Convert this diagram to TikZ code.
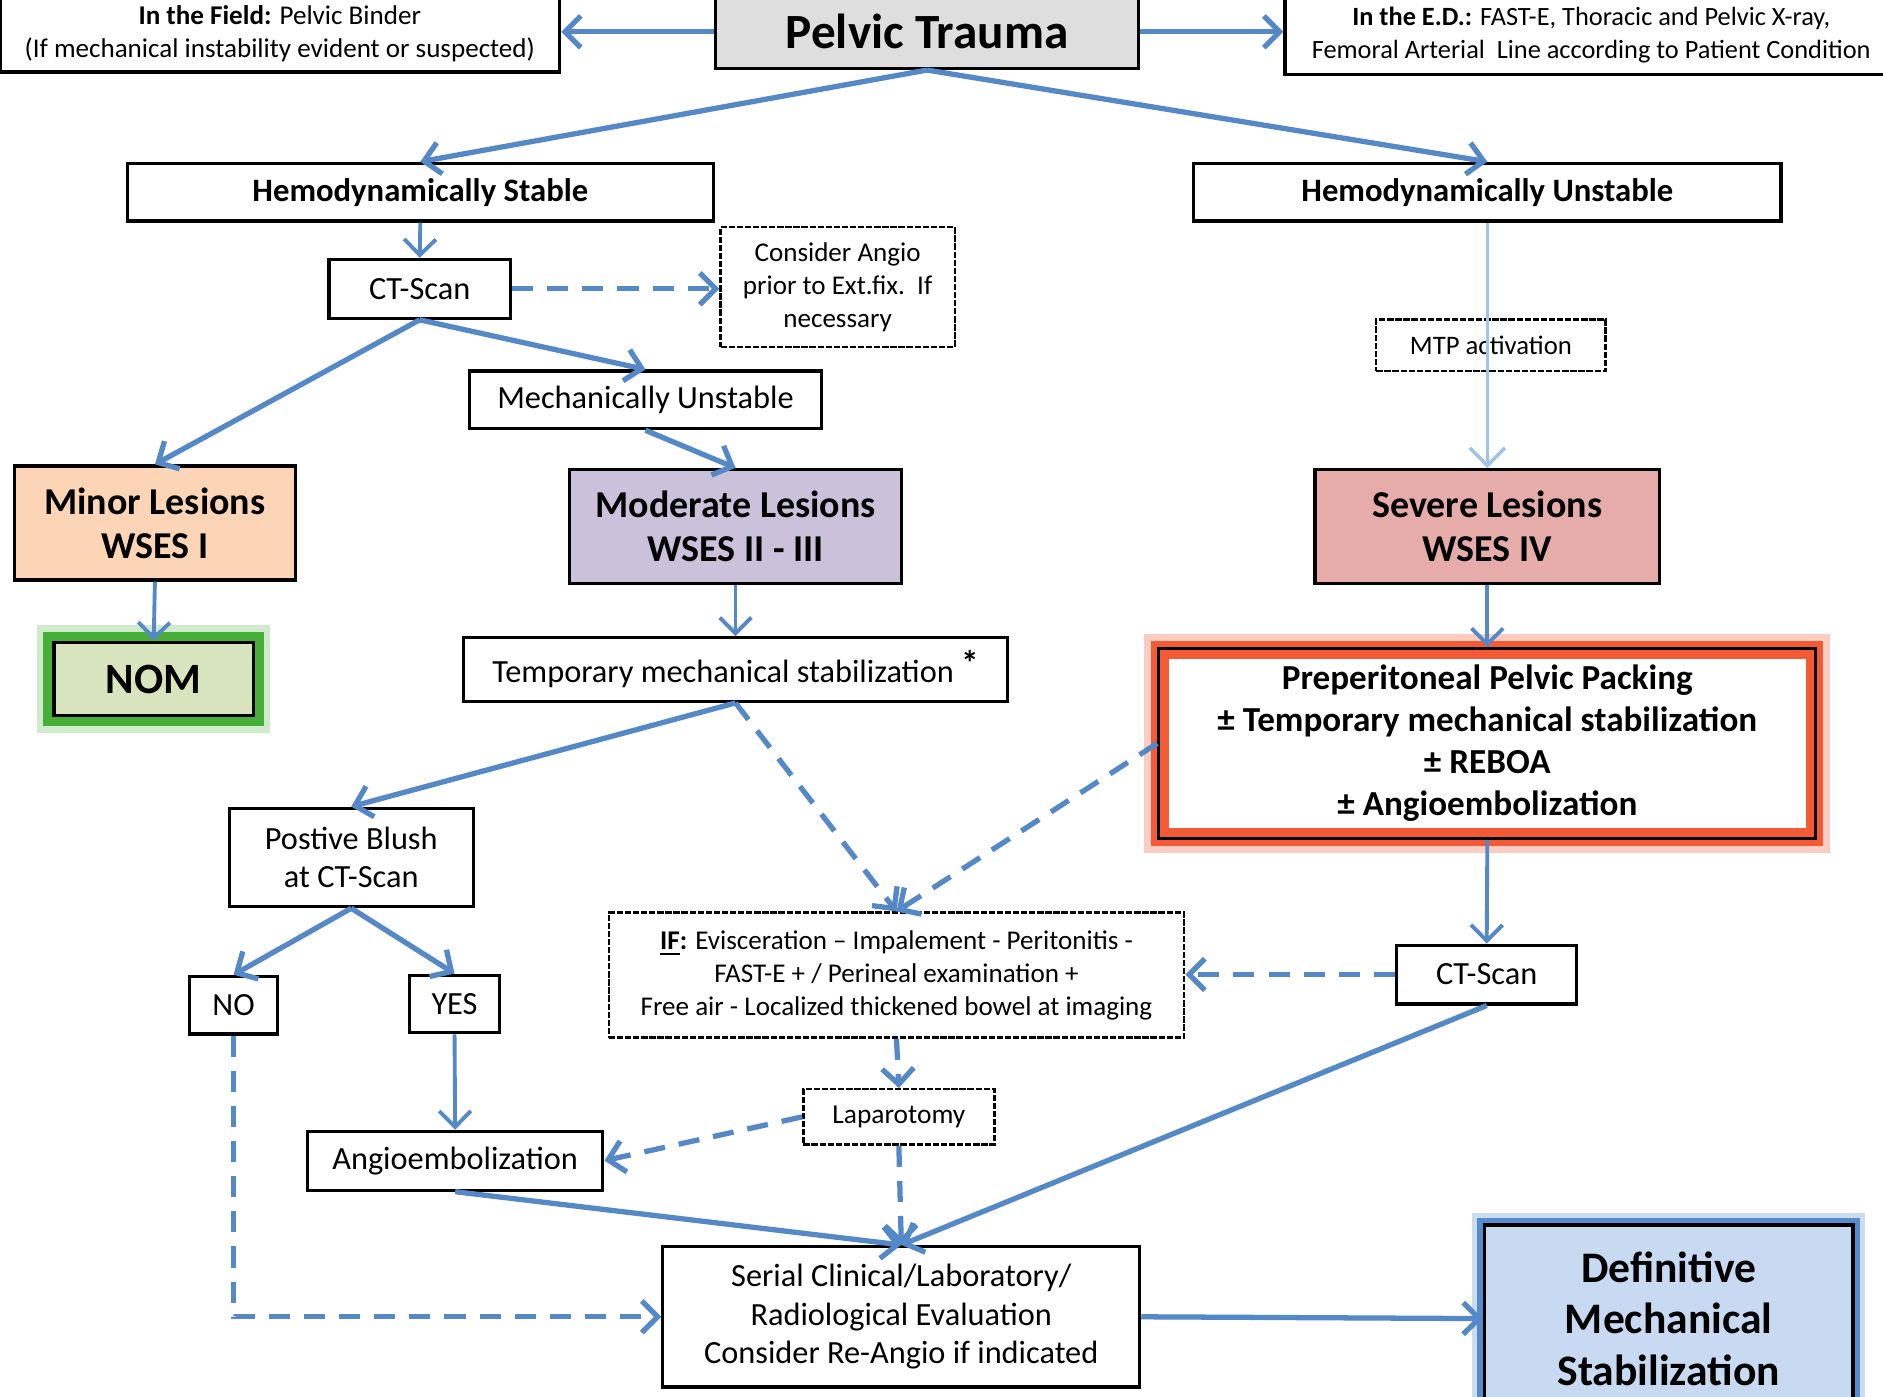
\documentclass[tikz,border=0pt]{standalone}
\usepackage{fontspec}
\setmainfont{Carlito}
\usetikzlibrary{arrows.meta}
\pgfdeclarelayer{bg}
\pgfsetlayers{bg,main}
\newcommand\U{0.012009cm}
\definecolor{flow}{RGB}{84,136,198}
\definecolor{flowlight}{RGB}{160,196,230}
\definecolor{trauma}{RGB}{222,222,222}
\definecolor{minorfill}{RGB}{251,213,181}
\definecolor{modfill}{RGB}{204,193,218}
\definecolor{sevfill}{RGB}{229,172,170}
\definecolor{nomfill}{RGB}{215,228,189}
\definecolor{nomglow}{RGB}{70,175,55}
\definecolor{packglow}{RGB}{245,90,55}
\definecolor{deffill}{RGB}{200,218,242}
\definecolor{defglow}{RGB}{85,140,205}
\tikzset{
  box/.style={draw=black, line width=0.9pt, fill=white, inner sep=0pt, align=center, text=black},
  sz/.style 2 args={minimum width=#1*\U, minimum height=#2*\U},
  dotbox/.style={box, line width=0.7pt, dash pattern=on 1.8pt off 0.5pt},
  link/.style={draw=flow, line width=1.5pt, -{Straight Barb[length=4.5pt,width=9pt]}},
  slink/.style={link, line width=1.1pt},
  dlink/.style={link, dash pattern=on 6pt off 4pt},
  tlink/.style={draw=flowlight, line width=1pt, -{Straight Barb[length=5pt,width=10pt]}},
  fs/.style={font=\fontsize{9.2}{11}\selectfont},
  hemo/.style={font=\bfseries\fontsize{9.3}{11}\selectfont},
  lesion/.style={font=\bfseries\fontsize{10.8}{12.6}\selectfont}
}
\begin{document}
\begin{tikzpicture}[x=\U,y=-\U]
\useasboundingbox (0,0) rectangle (1568,1163);
\clip (0,0) rectangle (1568,1163);

% top row
\node[box, fill=trauma, sz={352}{61}, font=\bfseries\fontsize{14}{16}\selectfont] (pelvic) at (772,26.5) {Pelvic Trauma};
\node[box, sz={466}{64}, font=\fontsize{7.7}{9.3}\selectfont] (field) at (233,28)
  {\textbf{In the Field:} Pelvic Binder\\(If mechanical instability evident or suspected)};
\node[box, sz={510}{66}, font=\fontsize{7.5}{9.3}\selectfont] (ed) at (1325,29)
  {\textbf{In the E.D.:} FAST-E, Thoracic and Pelvic X-ray,\\Femoral Arterial\ \ Line according to Patient Condition};

% haemodynamic branches
\node[box, sz={488}{48}, hemo] (stable) at (350,160) {Hemodynamically Stable};
\node[box, sz={489}{48}, hemo] (unstable) at (1238.5,160) {Hemodynamically Unstable};
\node[box, sz={151}{49}, fs] (ct1) at (349.5,240.5) {CT-Scan};
\node[dotbox, sz={195}{100}, font=\fontsize{7.7}{9.4}\selectfont] (cangio) at (697.5,239)
  {Consider Angio\\prior to Ext.fix.\ \ If\\necessary};
\node[box, sz={293}{48}, fs] (mech) at (537.5,333) {Mechanically Unstable};
\node[dotbox, fill=none, sz={191}{43}, font=\fontsize{7.6}{9}\selectfont] (mtp) at (1241.5,287.5) {MTP activation};

% lesion grades
\node[box, fill=minorfill, sz={234}{95}, lesion] (minor) at (129,435.5) {Minor Lesions\\WSES I};
\node[box, fill=modfill, sz={277}{95}, lesion] (moderate) at (612.5,438.5) {Moderate Lesions\\WSES II - III};
\node[box, fill=sevfill, sz={287}{95}, lesion] (severe) at (1238.5,438.5) {Severe Lesions\\WSES IV};

\node[box, fill=nomfill, sz={166}{61}, font=\bfseries\fontsize{12.3}{14}\selectfont] (nom) at (128,565.5) {NOM};
\node[box, sz={453}{53}, fs] (temp) at (612.5,557.5)
  {Temporary mechanical stabilization\ \raisebox{0.45ex}{\bfseries\fontsize{10}{10}\selectfont *}};
\node[box, fill=none, sz={547}{158}, font=\bfseries\fontsize{10}{11.9}\selectfont] (pack) at (1238.5,619)
  {Preperitoneal Pelvic Packing\\± Temporary mechanical stabilization\\± REBOA\\± Angioembolization};

\node[box, sz={203}{82}, font=\fontsize{9.2}{10.9}\selectfont] (blush) at (292.5,714) {Postive Blush\\at CT-Scan};
\node[dotbox, sz={479}{104}, font=\fontsize{7.7}{9.4}\selectfont] (ifbox) at (746.5,812)
  {\textbf{\underline{IF}:} Evisceration – Impalement - Peritonitis -\\FAST-E + / Perineal examination +\\Free air - Localized thickened bowel at imaging};
\node[box, sz={150}{49}, fs] (ct2) at (1238,811.5) {CT-Scan};
\node[box, sz={73}{48}, fs] (no) at (194.5,837) {NO};
\node[box, sz={75}{48}, fs] (yes) at (378.5,836) {YES};
\node[dotbox, sz={159}{46}, font=\fontsize{7.8}{9}\selectfont] (lap) at (748.5,930) {Laparotomy};
\node[box, sz={246}{49}, fs] (angio) at (379,966.5) {Angioembolization};
\node[box, sz={397}{117}, font=\fontsize{9.2}{10.9}\selectfont] (serial) at (750.5,1096.5)
  {Serial Clinical/Laboratory/\\Radiological Evaluation\\Consider Re-Angio if indicated};
\node[box, fill=deffill, sz={307}{156}, font=\bfseries\fontsize{12.4}{14.7}\selectfont] (def) at (1389.5,1098)
  {Definitive\\Mechanical\\Stabilization};

% page background and glowing outlines
\begin{pgfonlayer}{bg}
  \fill[white] (0,0) rectangle (1568,1163);
  % green halo round NOM
  \draw[nomglow, line width=4pt, opacity=0.25] ([shift={(-2.4pt,2.4pt)}]nom.north west) rectangle ([shift={(2.4pt,-2.4pt)}]nom.south east);
  \draw[nomglow, line width=2.6pt] ([shift={(-1.3pt,1.3pt)}]nom.north west) rectangle ([shift={(1.3pt,-1.3pt)}]nom.south east);
  % red band round the packing box
  \draw[packglow, line width=3pt, opacity=0.3] ([shift={(-2.2pt,2.2pt)}]pack.north west) rectangle ([shift={(2.2pt,-2.2pt)}]pack.south east);
  \draw[packglow, line width=5pt] ([shift={(0.8pt,-0.8pt)}]pack.north west) rectangle ([shift={(-0.8pt,0.8pt)}]pack.south east);
  % blue halo round the final box
  \draw[defglow, line width=3pt, opacity=0.3] ([shift={(-1.5pt,1.5pt)}]def.north west) rectangle ([shift={(1.5pt,-1.5pt)}]def.south east);
  \draw[defglow, line width=1.6pt] ([shift={(-0.8pt,0.8pt)}]def.north west) rectangle ([shift={(0.8pt,-0.8pt)}]def.south east);
\end{pgfonlayer}

% connectors
\draw[link] (pelvic.west) -- (field.east |- pelvic.west);
\draw[link] (pelvic.east) -- (ed.west |- pelvic.east);
\draw[link] (pelvic.south) -- (stable.north);
\draw[link] (pelvic.south) -- (unstable.north);
\draw[slink] (stable.south) -- (ct1.north);
\draw[dlink] (ct1.east) -- (cangio.west |- ct1.east);
\draw[link] (ct1.south) -- (mech.north);
\draw[link] (ct1.south) -- (minor.north);
\draw[link] (mech.south) -- (moderate.north);
\draw[tlink] (unstable.south) -- (severe.north);
\draw[slink] (minor.south) -- (nom.north);
\draw[slink] (moderate.south) -- (temp.north);
\draw[slink] (severe.south) -- (pack.north);
\draw[link] (temp.south) -- (blush.north);
\draw[dlink] (temp.south) -- (ifbox.north);
\draw[dlink] (pack.west) -- (ifbox.north);
\draw[slink] (pack.south) -- (ct2.north);
\draw[dlink] (ct2.west) -- (ifbox.east |- ct2.west);
\draw[link] (blush.south) -- (no.north);
\draw[link] (blush.south) -- (yes.north);
\draw[slink] (yes.south) -- (angio.north);
\draw[dlink] (ifbox.south) -- (lap.north);
\draw[dlink] (lap.west) -- (angio.east);
\draw[link] (angio.south) -- (serial.north);
\draw[dlink] (lap.south) -- (serial.north);
\draw[link] (ct2.south) -- (serial.north);
\draw[dlink] (no.south) -- (no.south |- serial.west) -- (serial.west);
\draw[link] (serial.east) -- (def.west);
\end{tikzpicture}
\end{document}
